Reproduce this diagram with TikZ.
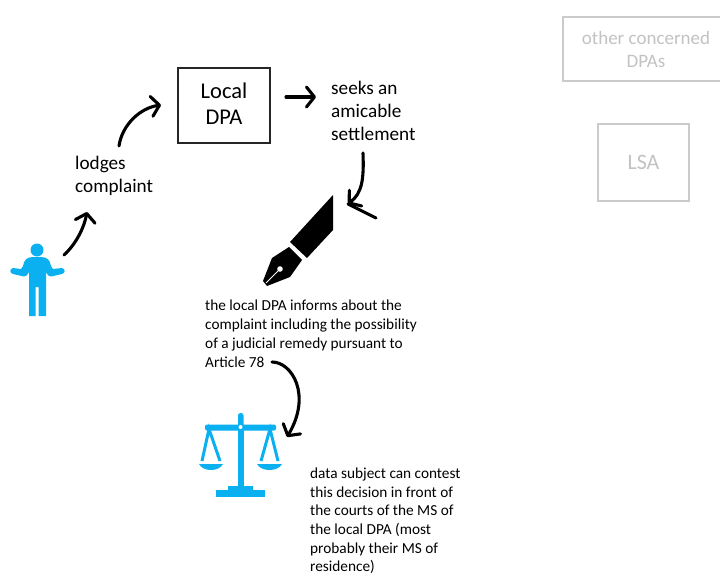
\documentclass[tikz,border=0pt]{standalone}
\usepackage{fontspec}
\setmainfont{Carlito}
\usetikzlibrary{arrows.meta}
\definecolor{iconblue}{HTML}{0BB0F0}
\definecolor{fadegray}{HTML}{CBCBCB}
\definecolor{fadetext}{HTML}{C2C2C2}
\tikzset{
  box/.style={draw=black!85,line width=1.3pt,align=center,inner sep=0pt,font=\fontsize{22.5}{26}\selectfont},
  fadebox/.style={draw=fadegray,line width=1.3pt,align=center,inner sep=0pt,text=fadetext},
  label/.style={align=left,inner sep=0pt,anchor=north west,font=\fontsize{19.2}{23}\selectfont},
  note/.style={align=left,inner sep=0pt,anchor=north west,font=\fontsize{15.3}{19}\selectfont},
  sketch/.style={line width=3.1pt,line cap=round,-{Straight Barb[length=8pt,width=20pt,line width=3.1pt,round]}}
}
\begin{document}
\begin{tikzpicture}[x=1pt,y=-1pt]
  \useasboundingbox (0,0) rectangle (720,575);
  % boxes
  \node[box,minimum width=92pt,minimum height=75pt] (dpa) at (224,105.5) {Local\\DPA\rule[-4pt]{0pt}{4pt}};
  \node[fadebox,minimum width=166pt,minimum height=64pt,font=\fontsize{19}{23}\selectfont] (others) at (646,49) {other concerned\\DPAs};
  \node[fadebox,minimum width=91pt,minimum height=77pt,font=\fontsize{22}{24}\selectfont] (lsa) at (643.5,162.5) {LSA};
  % texts
  \node[label] (complaint) at (75,155.5) {lodges\\complaint};
  \node[label] (settle) at (331,80.5) {seeks an\\amicable\\settlement};
  \node[note] (inform) at (205,299.5) {the local DPA informs about the\\complaint including the possibility\\of a judicial remedy pursuant to\\Article 78};
  \node[note,font=\fontsize{15.3}{18.7}\selectfont] (contest) at (310,467.5) {data subject can contest\\this decision in front of\\the courts of the MS of\\the local DPA (most\\probably their MS of\\residence)};
  % person
  \fill[iconblue] (37,250) circle (6.5);
  \fill[iconblue] (33,257) -- (41,257) .. controls (47,257) and (50,260) .. (51,266) -- (53,269) -- (62,268)
    .. controls (65.5,269) and (65.5,273) .. (62,274) -- (51,276.5) .. controls (49,276.5) and (47,275) .. (46,272)
    -- (46,316) -- (38.5,316) -- (38.5,287) -- (35.5,287) -- (35.5,316) -- (29,316) -- (29,272)
    .. controls (28,275) and (26,276.5) .. (24,276.5) -- (13,274) .. controls (9.5,273) and (9.5,269) .. (13,268)
    -- (21,269) -- (23,266) .. controls (24,260) and (27,257) .. (33,257) -- cycle;
  % pen
  \fill (333,195) -- (333,230) -- (307,258) -- (290,242) -- cycle;
  \fill (289,247) -- (302,260) -- (290,277) -- (267,286) -- (263,281) -- (272,258) -- cycle;
  \draw[white,line width=1pt] (266,283) -- (280,269);
  \fill[white] (280,269) circle (2.8);
  % scales
  \begin{scope}[iconblue]
    \fill[rounded corners=2.5pt] (238,413) rectangle (243.5,440);
    \fill (238,425) rectangle (243.5,487);
    \fill[rounded corners=2pt] (205,424.5) rectangle (276,430.5);
    \fill (216,490) rectangle (265,497);
    \fill (228,486) rectangle (253,490);
    \draw[line width=3pt] (202,461) -- (209,429) -- (220,461);
    \draw[line width=3pt] (261,461) -- (270,429) -- (278,461);
    \fill (199,464) .. controls (203,472) and (219,472) .. (223,464) -- cycle;
    \fill (257,464) .. controls (261,472) and (278,472) .. (282,464) -- cycle;
    \fill[white] (240.5,427) circle (2);
  \end{scope}
  % connectors
  \coordinate (a1s) at (64,255);
  \coordinate (a1e) at (87,212);
  \coordinate (a2s) at (119,146);
  \coordinate (a2e) at (161,105);
  \coordinate (a3s) at (286,97);
  \coordinate (a3e) at (316,97);
  \coordinate (a4s) at (363,153);
  \coordinate (a4e) at (348,204);
  \coordinate (a4b) at (376,218);
  \coordinate (a5s) at (272,362);
  \coordinate (a5e) at (287,437);
  \draw[sketch] (a1s) .. controls (76,244) and (84,228) .. (a1e);
  \draw[sketch] (a2s) .. controls (122,125) and (140,108) .. (a2e);
  \draw[sketch] (a3s) -- (a3e);
  \draw[sketch] (a4s) .. controls (364,180) and (362,193) .. (a4e);
  \draw[line width=3.1pt,line cap=round] (a4e) -- (a4b);
  \draw[sketch] (a5s) .. controls (292,362) and (312,395) .. (a5e);
\end{tikzpicture}
\end{document}
